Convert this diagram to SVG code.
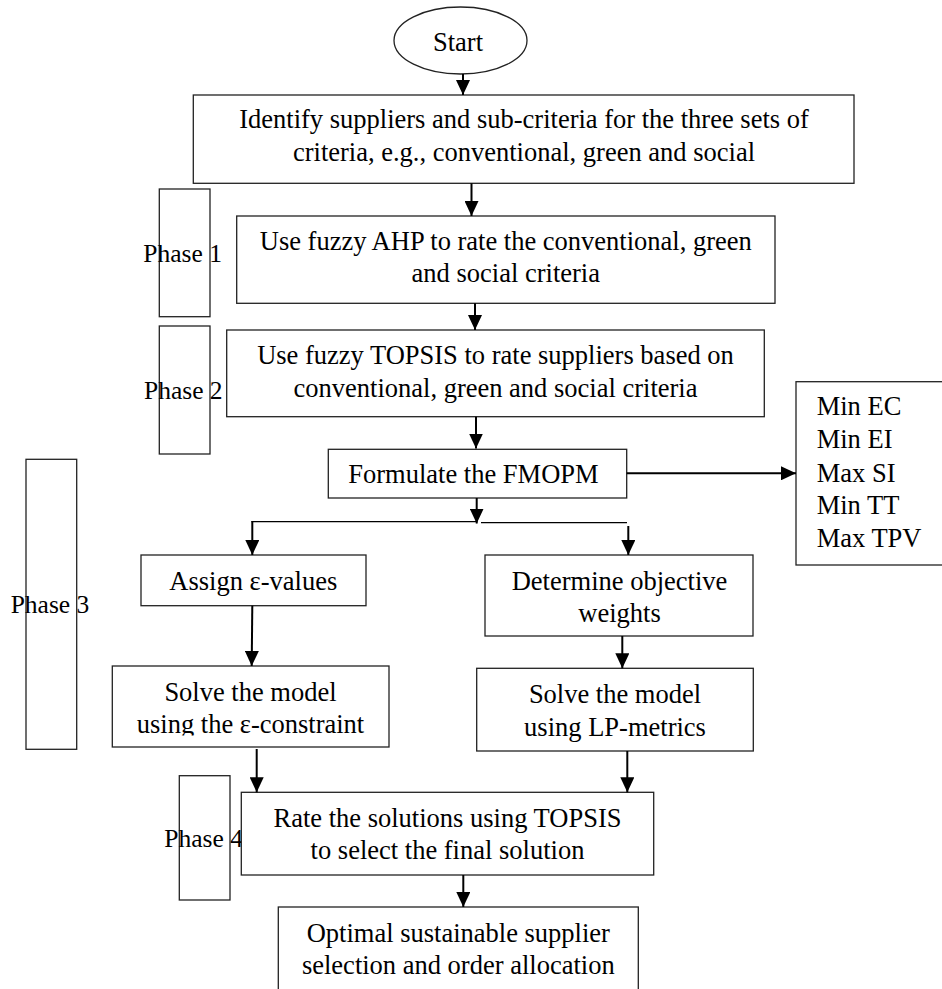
<svg xmlns="http://www.w3.org/2000/svg" width="942" height="989" viewBox="0 0 942 989">
<style>
.box{fill:#fff;stroke:#222;stroke-width:1.3}
.ph{fill:none;stroke:#222;stroke-width:1.3}
text{font-family:"Liberation Serif","Times New Roman",serif;font-size:26.5px;fill:#000}
.c{text-anchor:middle}
.pt{font-size:25.5px}
.cn{stroke:#000;stroke-width:2;fill:none}
.thin{stroke:#000;stroke-width:1.2;fill:none}
</style>
<defs>
<marker id="ah" viewBox="0 0 15 14" refX="15" refY="7" markerWidth="15" markerHeight="14" markerUnits="userSpaceOnUse" orient="auto">
<path d="M0,0 L15,7 L0,14 z" fill="#000"/>
</marker>
<clipPath id="clip7"><rect x="100" y="660" width="300" height="75.5"/></clipPath>
</defs>
<rect width="942" height="989" fill="#fff"/>

<g id="phase1"><rect class="ph" x="159.3" y="189" width="50.7" height="127.7"/><text class="pt" x="143.3" y="261.7">Phase 1</text></g>
<g id="phase2"><rect class="ph" x="159.3" y="326" width="50.7" height="128"/><text class="pt" x="144" y="399">Phase 2</text></g>
<g id="phase3"><rect class="ph" x="26" y="459.3" width="50.7" height="290"/><text class="pt" x="10.7" y="613.3">Phase 3</text></g>
<g id="phase4"><rect class="ph" x="179.3" y="775.7" width="50.7" height="124.3"/><text class="pt" x="164.3" y="846.7">Phase 4</text></g>

<g id="start"><ellipse cx="460.5" cy="40.5" rx="66.5" ry="33.5" fill="#fff" stroke="#222" stroke-width="1.3"/><text class="c" x="458" y="50.7">Start</text></g>

<g id="identify"><rect class="box" x="193.3" y="95" width="660.7" height="88.3"/>
<text class="c" x="524" y="128.3">Identify suppliers and sub-criteria for the three sets of</text>
<text class="c" x="524" y="160.5">criteria, e.g., conventional, green and social</text></g>

<g id="ahp"><rect class="box" x="236.7" y="216" width="538.3" height="87.3"/>
<text class="c" x="505.8" y="250">Use fuzzy AHP to rate the conventional, green</text>
<text class="c" x="505.8" y="281.7">and social criteria</text></g>

<g id="topsis"><rect class="box" x="226.7" y="330" width="537.6" height="86.7"/>
<text class="c" x="495.5" y="364">Use fuzzy TOPSIS to rate suppliers based on</text>
<text class="c" x="495.5" y="396.7">conventional, green and social criteria</text></g>

<g id="fmopm"><rect class="box" x="328.3" y="449.3" width="298.4" height="48.7"/>
<text x="348.3" y="483.3">Formulate the FMOPM</text></g>

<g id="objectives"><rect class="box" x="796" y="381.7" width="170" height="183.3"/>
<text x="816.7" y="415">Min EC</text>
<text x="816.7" y="448.3">Min EI</text>
<text x="816.7" y="481.7">Max SI</text>
<text x="816.7" y="514">Min TT</text>
<text x="816.7" y="546.7">Max TPV</text></g>

<g id="assign"><rect class="box" x="141" y="555" width="225" height="50.7"/>
<text class="c" x="253.3" y="590">Assign ε-values</text></g>

<g id="weights"><rect class="box" x="485" y="555" width="268" height="81"/>
<text class="c" x="619.5" y="590">Determine objective</text>
<text class="c" x="619.5" y="621.7">weights</text></g>

<g id="solve-eps"><rect class="box" x="112.3" y="666" width="276.7" height="81"/>
<g clip-path="url(#clip7)">
<text class="c" x="250.5" y="700.7">Solve the model</text>
<text class="c" x="250.5" y="733.3">using the ε-constraint</text></g></g>

<g id="solve-lp"><rect class="box" x="476.7" y="668.3" width="276.6" height="82.7"/>
<text class="c" x="615" y="702.7">Solve the model</text>
<text class="c" x="615" y="736">using LP-metrics</text></g>

<g id="rate"><rect class="box" x="241.3" y="792.3" width="412.4" height="82.7"/>
<text class="c" x="447.5" y="826.7">Rate the solutions using TOPSIS</text>
<text class="c" x="447.5" y="859.3">to select the final solution</text></g>

<g id="optimal"><rect class="box" x="278.3" y="907" width="360" height="95"/>
<text class="c" x="458.3" y="941.7">Optimal sustainable supplier</text>
<text class="c" x="458.3" y="974">selection and order allocation</text></g>

<g id="connectors">
<line class="cn" x1="463" y1="74" x2="463" y2="95" marker-end="url(#ah)"/>
<line class="cn" x1="471.5" y1="183.3" x2="471.5" y2="216" marker-end="url(#ah)"/>
<line class="cn" x1="475" y1="303.3" x2="475" y2="330" marker-end="url(#ah)"/>
<line class="cn" x1="476" y1="416.7" x2="476" y2="448.5" marker-end="url(#ah)"/>
<line class="cn" x1="476.7" y1="498" x2="476.7" y2="523.5" marker-end="url(#ah)"/>
<line class="thin" x1="251.5" y1="521.7" x2="476.7" y2="521.7"/>
<line class="thin" x1="481" y1="522.7" x2="627" y2="522.7"/>
<line class="cn" x1="252.3" y1="521" x2="252.3" y2="555" marker-end="url(#ah)"/>
<line class="cn" x1="628.3" y1="526" x2="628.3" y2="555" marker-end="url(#ah)"/>
<line class="cn" x1="626.7" y1="473.3" x2="796" y2="473.3" stroke-width="2.5" marker-end="url(#ah)"/>
<line class="cn" x1="252.3" y1="605.7" x2="251.7" y2="666" marker-end="url(#ah)"/>
<line class="cn" x1="622.3" y1="636" x2="622.3" y2="668.3" marker-end="url(#ah)"/>
<line class="cn" x1="256.7" y1="749" x2="256.7" y2="792.3" marker-end="url(#ah)"/>
<line class="cn" x1="627.3" y1="751" x2="627.3" y2="792.3" marker-end="url(#ah)"/>
<line class="cn" x1="463.3" y1="875" x2="463.3" y2="907" marker-end="url(#ah)"/>
</g>
</svg>
